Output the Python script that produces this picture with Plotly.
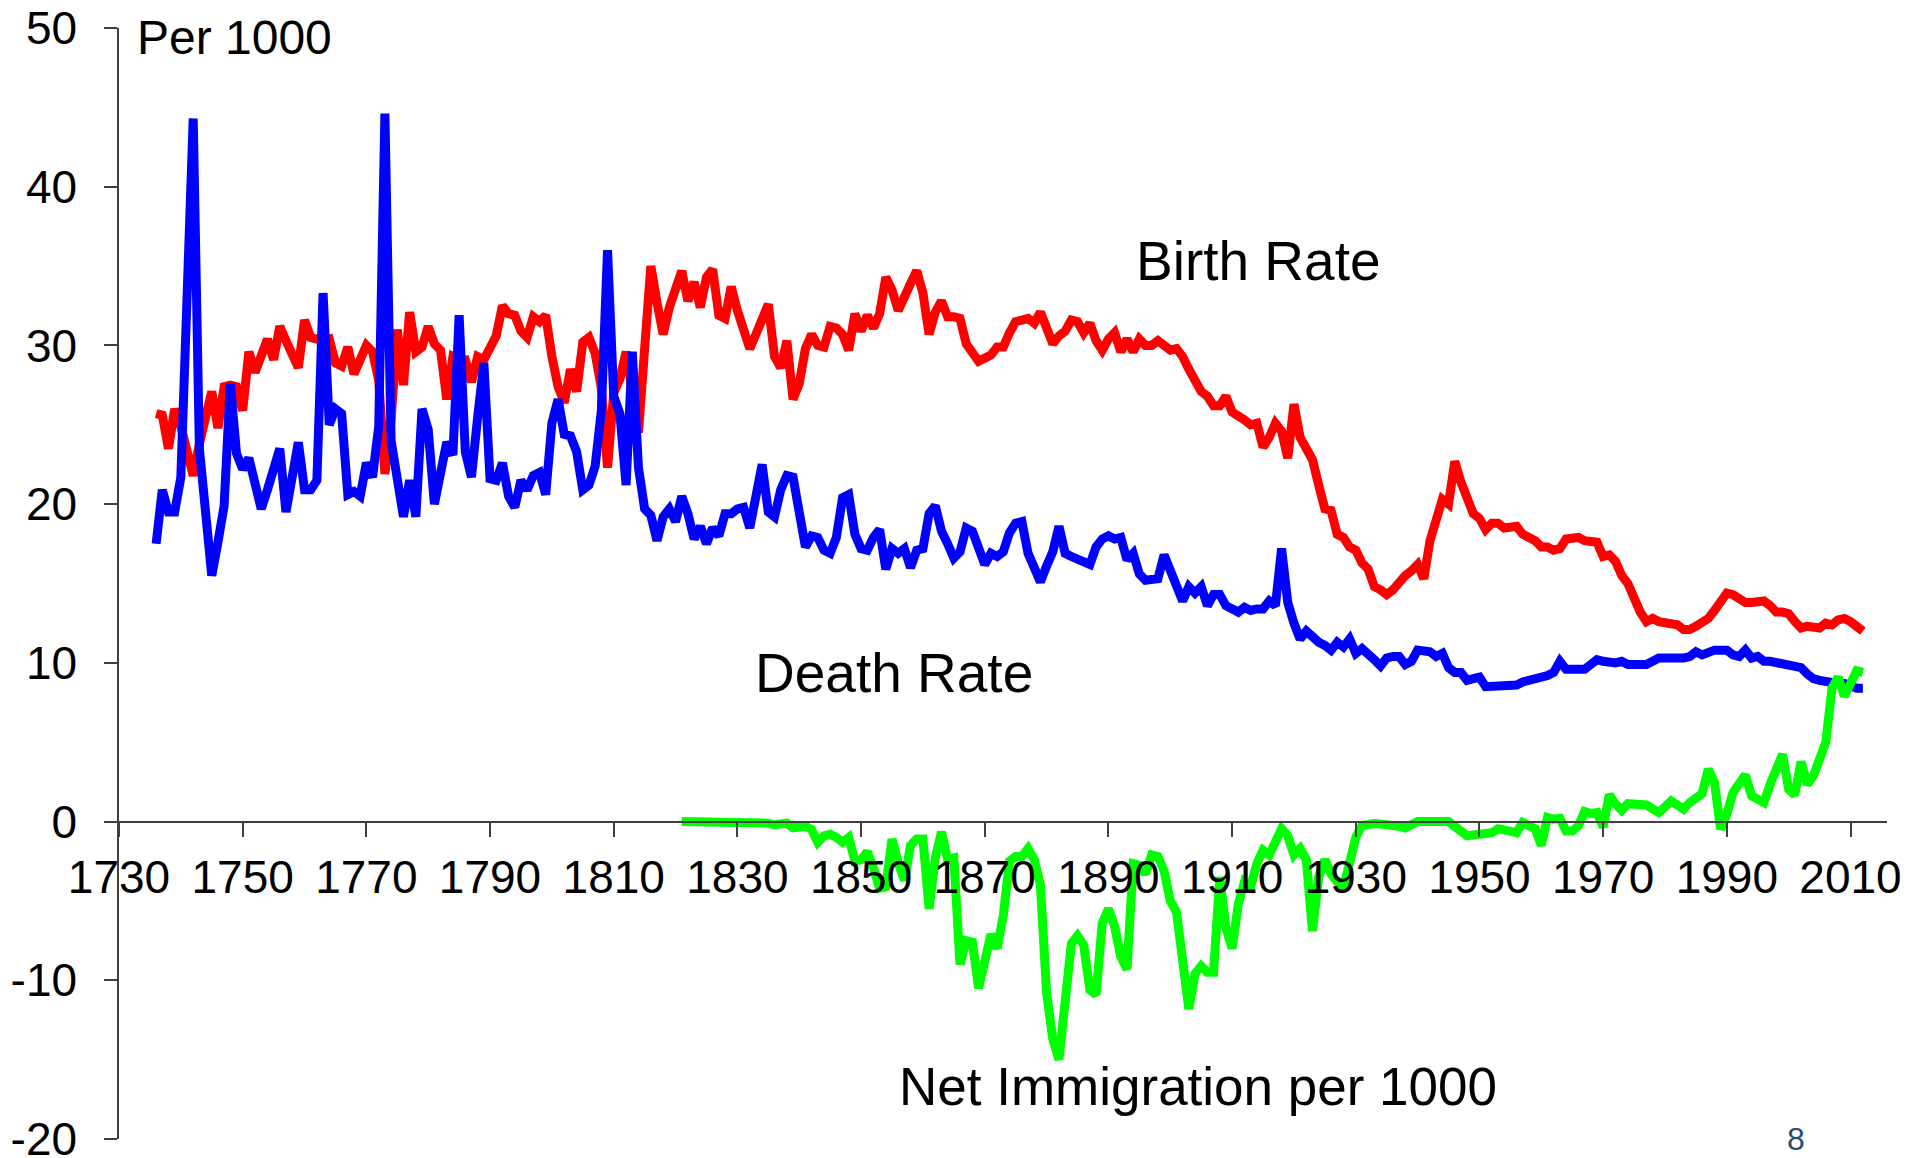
import plotly.graph_objects as go

# ---------------- data (per 1000) ----------------
birth_years = list(range(1736, 2013))
birth_rate = [
    25.7, 25.6, 23.5, 26.0,
    24.9, 23.0, 21.8, 23.8, 25.6, 27.1, 24.8, 27.4, 27.5, 27.4,
    25.9, 29.6, 28.3, 29.4, 30.4, 29.1, 31.2, 30.3, 29.5, 28.6,
    31.6, 30.5, 30.4, 30.3, 30.4, 28.9, 28.7, 29.9, 28.2, 29.1,
    30.0, 29.6, 27.8, 21.9, 25.3, 31.0, 27.5, 32.1, 29.6, 29.9,
    31.2, 30.1, 29.7, 26.6, 29.3, 29.1, 29.1, 27.7, 29.3, 29.1,
    30.0, 30.6, 32.5, 32.0, 31.9, 30.9, 30.5, 31.8, 31.5, 31.9,
    29.3, 27.4, 26.4, 28.5, 27.1, 30.2, 30.5, 29.5, 27.3, 22.3,
    27.0, 27.9, 29.6, 27.0, 24.5, 29.8, 35.0, 32.7, 30.7, 32.4,
    33.5, 34.7, 32.8, 34.0, 32.4, 34.3, 34.8, 31.9, 31.7, 33.7,
    32.2, 31.0, 29.8, 30.7, 31.7, 32.6, 29.3, 28.6, 30.3, 26.6,
    27.6, 29.8, 30.7, 30.0, 29.9, 31.2, 31.1, 30.7, 29.7, 32.0,
    30.9, 31.9, 31.1, 32.0, 34.3, 33.5, 32.2, 33.2, 33.9, 34.7,
    33.3, 30.7, 32.1, 32.8, 31.8, 31.8, 31.7, 30.1, 29.6, 29.0,
    29.2, 29.4, 29.9, 29.9, 30.8, 31.5, 31.6, 31.7, 31.4, 32.1,
    31.1, 30.1, 30.6, 30.9, 31.6, 31.5, 30.8, 31.4, 30.3, 29.7,
    30.4, 30.8, 29.6, 30.4, 29.6, 30.4, 30.0, 30.0, 30.3, 30.0,
    29.7, 29.8, 29.3, 28.5, 27.8, 27.1, 26.8, 26.2, 26.2, 26.8,
    25.8, 25.6, 25.3, 25.0, 25.1, 23.6, 24.2, 25.1, 24.6, 22.9,
    26.3, 24.2, 23.4, 22.8, 21.2, 19.7, 19.6, 18.1, 17.9, 17.3,
    17.1, 16.3, 15.9, 14.8, 14.6, 14.3, 14.6, 15.1, 15.5, 15.8,
    16.2, 15.3, 17.7, 19.0, 20.3, 20.0, 22.7, 21.4, 20.5, 19.4,
    19.1, 18.4, 18.8, 18.8, 18.5, 18.5, 18.6, 18.1, 17.9, 17.7,
    17.3, 17.3, 17.1, 17.2, 17.8, 17.8, 17.9, 17.7, 17.6, 17.6,
    16.7, 16.8, 16.4, 15.5, 15.0, 14.0, 13.2, 12.6, 12.8, 12.6,
    12.5, 12.4, 12.4, 12.1, 12.1, 12.3, 12.5, 12.8, 13.3, 13.9,
    14.4, 14.3, 14.0, 13.8, 13.8, 13.8, 13.9, 13.6, 13.2, 13.2,
    13.1, 12.6, 12.2, 12.3, 12.3, 12.2, 12.5, 12.4, 12.7, 12.8,
    12.6, 12.2, 12.0,
]

death_years = list(range(1736, 2013))
death_rate = [
    17.5, 20.9, 19.5, 19.5,
    21.7, 35.0, 44.3, 23.5, 19.3, 15.5, 17.6, 19.9, 27.6, 23.2,
    22.2, 22.9, 21.3, 19.7, 20.9, 22.2, 23.5, 19.5, 21.7, 23.9,
    20.9, 20.9, 21.5, 33.3, 25.0, 26.0, 25.7, 20.6, 20.8, 20.5,
    22.6, 21.7, 24.9, 44.6, 24.0, 21.3, 19.2, 21.5, 19.2, 26.0,
    24.7, 20.0, 22.0, 23.9, 23.1, 31.9, 23.3, 21.7, 25.5, 28.9,
    21.6, 21.5, 22.6, 20.5, 19.8, 21.5, 20.9, 21.8, 22.0, 20.6,
    25.1, 26.6, 24.4, 24.3, 23.3, 20.9, 21.2, 22.4, 25.9, 36.0,
    26.8, 25.7, 21.2, 29.6, 22.3, 19.7, 19.3, 17.7, 19.2, 19.7,
    18.9, 20.5, 19.4, 17.8, 18.6, 17.5, 18.5, 18.0, 19.4, 19.4,
    19.7, 19.8, 18.5, 20.7, 22.5, 19.5, 19.2, 20.9, 21.8, 21.7,
    19.8, 17.3, 18.0, 17.9, 17.1, 16.9, 17.9, 20.4, 20.6, 18.1,
    17.2, 17.1, 17.9, 18.4, 15.9, 17.2, 16.9, 17.2, 16.0, 17.1,
    17.2, 19.4, 19.9, 18.3, 17.5, 16.6, 17.0, 18.5, 18.3, 17.1,
    16.2, 16.9, 16.7, 17.0, 18.2, 18.8, 18.9, 16.9, 16.0, 15.1,
    16.1, 17.0, 18.6, 16.9, 16.7, 16.5, 16.3, 16.2, 17.3, 17.8,
    18.0, 17.8, 17.9, 16.5, 16.9, 15.6, 15.2, 15.2, 15.3, 16.8,
    15.7, 14.9, 13.9, 14.8, 14.4, 14.8, 13.6, 14.3, 14.3, 13.6,
    13.4, 13.2, 13.5, 13.3, 13.4, 13.4, 13.9, 13.6, 17.2, 13.8,
    12.5, 11.5, 12.0, 11.6, 11.3, 11.1, 10.8, 11.3, 11.0, 11.5,
    10.6, 10.9, 10.6, 10.2, 9.8, 10.3, 10.4, 10.4, 9.9, 10.1,
    10.8, 10.8, 10.7, 10.4, 10.6, 9.7, 9.4, 9.4, 8.9, 9.0,
    9.1, 8.5, 8.5, 8.6, 8.5, 8.5, 8.6, 8.8, 8.9, 9.0,
    9.0, 9.2, 9.4, 10.1, 9.6, 9.6, 9.6, 9.6, 9.9, 10.2,
    10.1, 10.0, 10.0, 10.1, 9.9, 9.9, 9.9, 9.9, 10.1, 10.3,
    10.3, 10.3, 10.2, 10.3, 10.4, 10.7, 10.5, 10.7, 10.8, 10.8,
    10.8, 10.5, 10.4, 10.8, 10.3, 10.4, 10.1, 10.1, 10.0, 10.0,
    9.8, 9.7, 9.7, 9.3, 9.0, 8.9, 8.8, 8.8, 8.7, 8.7,
    8.5, 8.4, 8.4,
]

migration_years = list(range(1821, 2013))
net_immigration = [
    0.0, 0.0, -0.05, -0.05, -0.05, -0.05, 0.0, 0.0, 0.0,
    0.0, 0.0, 0.0, 0.0, 0.0, -0.1, -0.2, -0.2, -0.1, -0.4,
    -0.3, -0.3, -0.5, -1.3, -0.9, -0.8, -1.0, -1.3, -1.0, -2.5,
    -2.4, -1.9, -2.9, -4.2, -4.1, -1.1, -2.6, -3.7, -1.5, -1.1,
    -1.1, -5.5, -2.3, -0.65, -2.4, -2.3, -9.0, -7.5, -7.6, -10.5,
    -8.8, -7.1, -8.0, -5.9, -2.5, -2.2, -2.2, -1.7, -2.4, -4.0,
    -10.8, -13.7, -15.0, -11.7, -7.7, -7.2, -7.8, -10.6, -10.9, -6.4,
    -5.5, -6.6, -8.5, -9.3, -2.65, -2.75, -3.3, -2.1, -2.2, -3.1,
    -5.0, -5.7, -8.3, -11.8, -9.6, -9.1, -9.5, -9.5, -3.5, -6.7,
    -8.0, -5.2, -3.8, -4.1, -2.65, -1.8, -2.1, -1.2, -0.45, -0.9,
    -2.1, -1.7, -2.4, -6.9, -3.5, -2.4, -3.3, -3.8, -4.2, -2.6,
    -1.0, -0.25, -0.15, -0.13, -0.15, -0.17, -0.2, -0.3, -0.4, -0.2,
    0.0, 0.0, 0.0, 0.0, 0.0, 0.0, -0.3, -0.6, -0.9, -0.85,
    -0.8, -0.75, -0.7, -0.45, -0.5, -0.55, -0.7, -0.06, -0.34, -0.45,
    -1.5, 0.25, 0.15, 0.2, -0.6, -0.6, -0.27, 0.63, 0.5, 0.57,
    -0.34, 1.7, 1.1, 0.71, 1.13, 1.13, 1.13, 1.05, 0.8, 0.57,
    0.92, 1.3, 1.05, 0.78, 1.2, 1.5, 1.76, 3.3, 2.46, -0.48,
    0.46, 1.83, 2.39, 2.94, 1.62, 1.41, 1.2, 2.35, 3.2, 4.24,
    2.04, 1.68, 3.78, 2.35, 2.88, 4.0, 5.0, 8.4, 9.1, 7.9,
    8.8, 9.5, 9.4,
]

x_ticks = list(range(1730, 2011, 20))
y_ticks = list(range(-20, 51, 10))

FONT = "Liberation Sans, Arial, sans-serif"
AXIS = "#404040"
LINE_W = 9

fig = go.Figure()
fig.add_trace(go.Scatter(x=birth_years, y=birth_rate, mode="lines",
                         line=dict(color="#FF0000", width=LINE_W), name="Birth Rate"))
fig.add_trace(go.Scatter(x=death_years, y=death_rate, mode="lines",
                         line=dict(color="#0000FF", width=LINE_W), name="Death Rate"))
fig.add_trace(go.Scatter(x=migration_years, y=net_immigration, mode="lines",
                         line=dict(color="#00FF00", width=LINE_W), name="Net Immigration per 1000"))

fig.update_layout(
    width=1915, height=1158,
    margin=dict(l=119, r=28, t=28, b=19, autoexpand=False),
    paper_bgcolor="white", plot_bgcolor="white",
    showlegend=False,
    font=dict(family=FONT, color="black"),
    xaxis=dict(
        range=[1730, 2015.9], showgrid=False, zeroline=False,
        showline=True, linecolor=AXIS, linewidth=1.5,
        ticks="outside", ticklen=15, tickwidth=1.5, tickcolor=AXIS,
        tickvals=x_ticks, ticktext=[str(v) for v in x_ticks],
        tickfont=dict(size=46, family=FONT, color="black"),
        anchor="free", position=20 / 70, automargin=False,
        ticklabeloverflow="allow",
    ),
    yaxis=dict(
        range=[-20, 50], showgrid=False, zeroline=False,
        showline=True, linecolor=AXIS, linewidth=1.5,
        ticks="outside", ticklen=13, tickwidth=1.5, tickcolor=AXIS,
        tickvals=y_ticks, ticktext=[str(v) for v in y_ticks],
        tickfont=dict(size=46, family=FONT, color="black"),
        automargin=False, ticklabeloverflow="allow", ticklabelstandoff=18,
    ),
    annotations=[
        dict(text="Per 1000", x=1732.6, y=49.4, xref="x", yref="y",
             xanchor="left", yanchor="middle", showarrow=False,
             font=dict(size=48, family=FONT, color="black")),
        dict(text="Birth Rate", x=1894.2, y=35.3, xref="x", yref="y",
             xanchor="left", yanchor="middle", showarrow=False,
             font=dict(size=55, family=FONT, color="black")),
        dict(text="Death Rate", x=1832.5, y=9.35, xref="x", yref="y",
             xanchor="left", yanchor="middle", showarrow=False,
             font=dict(size=55, family=FONT, color="black")),
        dict(text="Net Immigration per 1000", x=1855.8, y=-16.7, xref="x", yref="y",
             xanchor="left", yanchor="middle", showarrow=False,
             font=dict(size=53, family=FONT, color="black")),
        dict(text="8", x=0.9485, y=0.0, xref="paper", yref="paper",
             xanchor="center", yanchor="middle", showarrow=False,
             font=dict(size=32, family=FONT, color="#1F4E79")),
    ],
)

fig.write_html("out.html", config={"displayModeBar": False},
               post_script="document.body.style.margin='0';")
